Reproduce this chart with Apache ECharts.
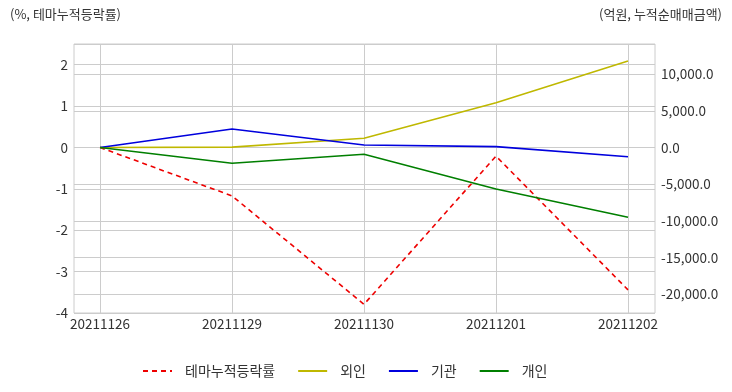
<!DOCTYPE html>
<html>
<head>
<meta charset="utf-8">
<script src="https://cdn.jsdelivr.net/npm/echarts@6/dist/echarts.min.js"></script>
<style>html,body{margin:0;padding:0;background:#fff;}#c{width:732px;height:392px;}</style>
</head>
<body>
<div id="c"></div>
<script>
var categories = ['20211126', '20211129', '20211130', '20211201', '20211202'];
var themeReturn = [0, -1.17, -3.79, -0.21, -3.44];
var foreign = [0, 50, 1250, 6100, 11780];
var institution = [0, 2520, 340, 110, -1260];
var individual = [0, -2160, -930, -5650, -9520];
var seriesNames = ['테마누적등락률', '외인', '기관', '개인'];
var leftTitle = '(%, 테마누적등락률)';
var rightTitle = '(억원, 누적순매매금액)';

var FONT = '"Noto Sans CJK KR", "Noto Sans", sans-serif';
var LMIN = -4, LMAX = 2.5, RMIN = -22560, RMAX = 14100;
var chart = echarts.init(document.getElementById('c'));
function fmtR(v) {
  var s = Math.abs(v).toFixed(1).split('.');
  s[0] = s[0].replace(/\B(?=(\d{3})+(?!\d))/g, ',');
  return (v < 0 ? '-' : '') + s.join('.');
}
var lbl = { color: '#333', fontSize: 13.5, fontFamily: FONT };
chart.setOption({
  animation: false,
  textStyle: { fontFamily: FONT },
  graphic: [
    { type: 'text', left: 10, top: 8, style: { text: leftTitle, fill: '#333', font: '13px ' + FONT } },
    { type: 'text', right: 10, top: 8, style: { text: rightTitle, fill: '#333', font: '13px ' + FONT } }
  ],
  legend: {
    data: seriesNames,
    left: 137, top: 359,
    itemWidth: 29, itemHeight: 10, itemGap: 22,
    itemStyle: { opacity: 0 },
    textStyle: { color: '#333', fontSize: 14, fontFamily: FONT, padding: [0, 0, 0, 8] }
  },
  grid: [
    { left: 74, right: 77, top: 44, bottom: 79, show: true, borderColor: '#ccc', borderWidth: 1 },
    { left: 100, right: 104, top: 44, bottom: 79 }
  ],
  xAxis: [
    { type: 'value', gridIndex: 0, show: false, min: 0, max: 1 },
    {
      type: 'category', gridIndex: 1, data: categories, boundaryGap: false,
      axisLine: { show: false }, axisTick: { show: false },
      axisLabel: Object.assign({ margin: 4 }, lbl),
      splitLine: { show: true, lineStyle: { color: '#ccc', width: 1 } }
    }
  ],
  yAxis: [
    {
      type: 'value', gridIndex: 0, position: 'left', min: LMIN, max: LMAX, interval: 1,
      axisLine: { show: false }, axisTick: { show: false },
      axisLabel: Object.assign({ margin: 6, showMaxLabel: false }, lbl),
      splitLine: { lineStyle: { color: '#ccc', width: 1 } }
    },
    {
      type: 'value', gridIndex: 0, position: 'right', min: RMIN, max: RMAX, splitNumber: 7,
      axisLine: { show: false }, axisTick: { show: false },
      axisLabel: Object.assign({ margin: 6, showMinLabel: false, showMaxLabel: false, formatter: fmtR }, lbl),
      splitLine: { lineStyle: { color: '#ccc', width: 1 } }
    },
    { type: 'value', gridIndex: 1, min: LMIN, max: LMAX, show: false, splitLine: { show: false } },
    { type: 'value', gridIndex: 1, min: RMIN, max: RMAX, show: false, splitLine: { show: false } }
  ],
  series: [
    { name: seriesNames[0], type: 'line', xAxisIndex: 1, yAxisIndex: 2, data: themeReturn, symbol: 'none',
      lineStyle: { color: '#ee0000', width: 1.6, type: [5, 4] }, itemStyle: { color: '#ee0000' } },
    { name: seriesNames[1], type: 'line', xAxisIndex: 1, yAxisIndex: 3, data: foreign, symbol: 'none',
      lineStyle: { color: '#bfb800', width: 1.6 }, itemStyle: { color: '#bfb800' } },
    { name: seriesNames[2], type: 'line', xAxisIndex: 1, yAxisIndex: 3, data: institution, symbol: 'none',
      lineStyle: { color: '#0000dd', width: 1.6 }, itemStyle: { color: '#0000dd' } },
    { name: seriesNames[3], type: 'line', xAxisIndex: 1, yAxisIndex: 3, data: individual, symbol: 'none',
      lineStyle: { color: '#007f00', width: 1.6 }, itemStyle: { color: '#007f00' } }
  ]
});
</script>
</body>
</html>
